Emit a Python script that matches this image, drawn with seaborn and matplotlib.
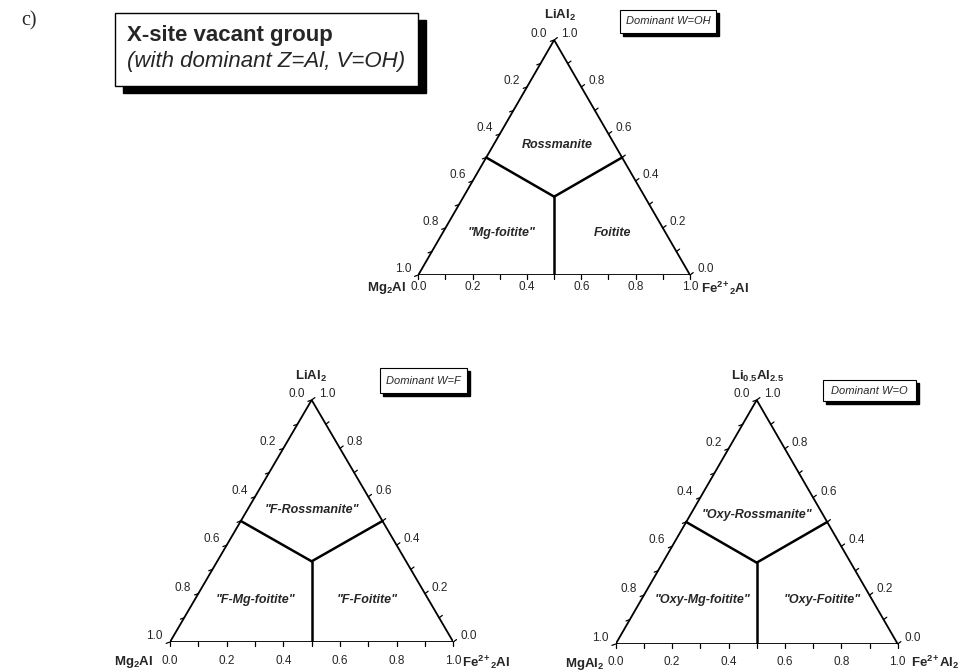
import numpy as np
import pandas as pd
import matplotlib
matplotlib.use("Agg")
import matplotlib.pyplot as plt
import seaborn as sns
from matplotlib.patches import Rectangle

sns.set_theme(style="white")
plt.rcParams['font.family'] = ['Liberation Sans', 'DejaVu Sans']
plt.rcParams['mathtext.fontset'] = 'custom'
plt.rcParams['mathtext.rm'] = 'Liberation Sans'
plt.rcParams['mathtext.it'] = 'Liberation Sans:italic'
plt.rcParams['mathtext.bf'] = 'Liberation Sans:bold'

# ---------------- data ----------------
minor_ticks = [0.0, 0.1, 0.2, 0.3, 0.4, 0.5, 0.6, 0.7, 0.8, 0.9, 1.0]
major_ticks = [0.0, 0.2, 0.4, 0.6, 0.8, 1.0]
tick_labels = ["0.0", "0.2", "0.4", "0.6", "0.8", "1.0"]

# field boundaries, ternary fractions (left, right, top)
boundary_left = [(0.5, 0.0, 0.5), (1/3, 1/3, 1/3)]
boundary_right = [(0.0, 0.5, 0.5), (1/3, 1/3, 1/3)]
boundary_bottom = [(0.5, 0.5, 0.0), (1/3, 1/3, 1/3)]
outline = [(1.0, 0.0, 0.0), (0.0, 1.0, 0.0), (0.0, 0.0, 1.0), (1.0, 0.0, 0.0)]

panel_top_labels = [r"$\mathbf{LiAl_2}$", r"$\mathbf{LiAl_2}$", r"$\mathbf{Li_{0.5}Al_{2.5}}$"]
panel_left_labels = [r"$\mathbf{Mg_2Al}$", r"$\mathbf{Mg_2Al}$", r"$\mathbf{MgAl_2}$"]
panel_right_labels = [r"$\mathbf{Fe^{2\!+}{}_2Al}$", r"$\mathbf{Fe^{2\!+}{}_2Al}$", r"$\mathbf{Fe^{2\!+}Al_2}$"]
panel_dominant = ["Dominant W=OH", "Dominant W=F", "Dominant W=O"]
field_names = [
    ["Rossmanite", '"Mg-foitite"', "Foitite"],
    ['"F-Rossmanite"', '"F-Mg-foitite"', '"F-Foitite"'],
    ['"Oxy-Rossmanite"', '"Oxy-Mg-foitite"', '"Oxy-Foitite"'],
]

# ---------------- layout (pixels) ----------------
W, H = 958, 672
S3 = np.sqrt(3) / 2
panels = [
    dict(x0=418.3, x1=690.0, base=275.0, apex=40.0, blab=-12,
         top=(560, 15), left=(406, 288), right=(701, 288),
         box=(620, 10, 96, 23),
         fields=[(557, 145), (502, 233), (613, 233)]),
    dict(x0=170.0, x1=453.3, base=642.0, apex=400.0, blab=-19,
         top=(311, 376), left=(153, 662), right=(462, 662),
         box=(380, 368, 87, 25),
         fields=[(312, 510), (255, 600), (367, 600)]),
    dict(x0=615.7, x1=897.7, base=644.0, apex=400.0, blab=-18,
         top=(758, 376), left=(604, 664), right=(911, 662),
         box=(823, 380, 93, 21),
         fields=[(757, 515), (703, 600), (822, 600)]),
]


def fx(px):
    return px / W


def fy(py):
    return 1 - py / H


def tern(p):
    a, b, c = p
    return b + c / 2, c * S3


def seg_df(segs):
    rows = []
    for i, s in enumerate(segs):
        for p in s:
            x, y = tern(p)
            rows.append(dict(x=x, y=y, seg=i))
    return pd.DataFrame(rows)


fig = plt.figure(figsize=(W / 100, H / 100), dpi=100)
fig.patch.set_facecolor("white")

# "c)" label
fig.text(fx(21), fy(21), "c)", family="Liberation Serif", fontsize=14.5, va="center", ha="left")

# title box with shadow
fig.patches.append(Rectangle((fx(123), fy(93)), 303 / W, 73 / H, transform=fig.transFigure,
                             facecolor="black", edgecolor="black", zorder=1))
fig.patches.append(Rectangle((fx(115), fy(86)), 303 / W, 73 / H, transform=fig.transFigure,
                             facecolor="white", edgecolor="black", lw=1.0, zorder=2))
fig.text(fx(127), fy(36), "X-site vacant group", fontsize=16, fontweight="bold",
         va="center", ha="left", zorder=3)
fig.text(fx(127), fy(62), "(with dominant Z=Al, V=OH)", fontsize=16, style="italic",
         va="center", ha="left", zorder=3)

for k, P in enumerate(panels):
    wpx = P["x1"] - P["x0"]
    hpx = P["base"] - P["apex"]
    ax = fig.add_axes([fx(P["x0"]), fy(P["base"]), wpx / W, hpx / H])
    ax.set_xlim(0, 1)
    ax.set_ylim(0, S3)
    ax.axis("off")

    sns.lineplot(data=seg_df([outline]), x="x", y="y", units="seg", estimator=None,
                 sort=False, color="black", lw=1.3, ax=ax, legend=False)
    sns.lineplot(data=seg_df([boundary_left, boundary_right, boundary_bottom]), x="x", y="y",
                 units="seg", estimator=None, sort=False, color="black", lw=1.8, ax=ax,
                 legend=False)

    ux = 1 / wpx          # data units per pixel (x)
    uy = S3 / hpx         # data units per pixel (y)
    L = 4.0
    for v in minor_ticks:
        x, y = tern((1 - v, v, 0))
        ax.plot([x, x], [y, y - L * uy], color="black", lw=0.9, clip_on=False)
        x, y = tern((v, 0, 1 - v))
        ax.plot([x, x - L * ux * 0.94], [y, y - L * uy * 0.34], color="black", lw=0.9, clip_on=False)
        x, y = tern((0, 1 - v, v))
        ax.plot([x, x + L * ux * 0.8], [y, y + L * uy * 0.6], color="black", lw=0.9, clip_on=False)

    for v, lab in zip(major_ticks, tick_labels):
        x, y = tern((1 - v, v, 0))
        ax.annotate(lab, (x, y), xytext=(0, P["blab"]), textcoords="offset pixels",
                    ha="center", va="center", fontsize=8.5, annotation_clip=False)
        x, y = tern((v, 0, 1 - v))
        ax.annotate(lab, (x, y), xytext=(-7, 6), textcoords="offset pixels",
                    ha="right", va="center", fontsize=8.5, annotation_clip=False)
        x, y = tern((0, 1 - v, v))
        ax.annotate(lab, (x, y), xytext=(7, 6), textcoords="offset pixels",
                    ha="left", va="center", fontsize=8.5, annotation_clip=False)

    # vertex labels
    fig.text(fx(P["top"][0]), fy(P["top"][1]), panel_top_labels[k], fontsize=9.5,
             ha="center", va="center")
    fig.text(fx(P["left"][0]), fy(P["left"][1]), panel_left_labels[k], fontsize=9.5,
             ha="right", va="center")
    fig.text(fx(P["right"][0]), fy(P["right"][1]), panel_right_labels[k], fontsize=9.5,
             ha="left", va="center")

    # field names
    for (px, py), name in zip(P["fields"], field_names[k]):
        fig.text(fx(px), fy(py), name, fontsize=9, fontweight="bold", style="italic",
                 ha="center", va="center")

    # "Dominant" box with shadow
    bx, by, bw, bh = P["box"]
    fig.patches.append(Rectangle((fx(bx + 3), fy(by + bh + 3)), bw / W, bh / H,
                                 transform=fig.transFigure, facecolor="black",
                                 edgecolor="black", zorder=1))
    fig.patches.append(Rectangle((fx(bx), fy(by + bh)), bw / W, bh / H,
                                 transform=fig.transFigure, facecolor="white",
                                 edgecolor="black", lw=0.8, zorder=2))
    fig.text(fx(bx + bw / 2), fy(by + bh / 2), panel_dominant[k], fontsize=8,
             style="italic", ha="center", va="center", zorder=3)

fig.savefig("out.png", dpi=100, facecolor="white")
